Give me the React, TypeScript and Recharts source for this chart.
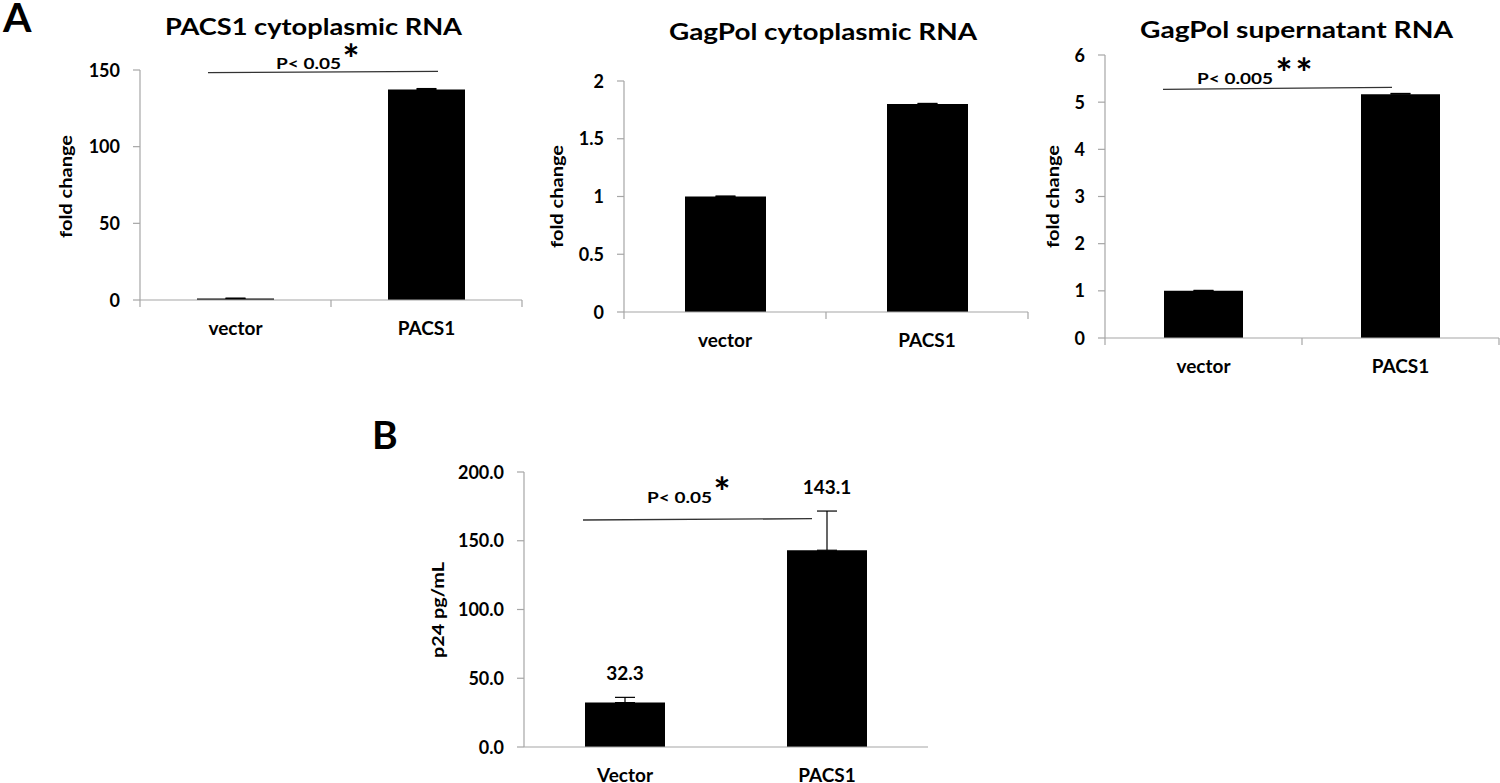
import React from "react";
import { BarChart, Bar, XAxis, YAxis, ErrorBar, LabelList } from "recharts";

// panel A: qRT-PCR fold change
const rnaGroups = ["vector", "PACS1"];
const pacs1Cyto = [1, 137.3];
const pacs1CytoErr = [0.2, 0.6];
const gagPolCyto = [1, 1.8];
const gagPolCytoErr = [0.004, 0.006];
const gagPolSup = [1, 5.17];
const gagPolSupErr = [0.01, 0.015];
const pacs1CytoTicks = [0, 50, 100, 150];
const gagPolCytoTicks = [0, 0.5, 1, 1.5, 2];
const gagPolSupTicks = [0, 1, 2, 3, 4, 5, 6];

// panel B: p24 ELISA
const p24Groups = ["Vector", "PACS1"];
const p24Values = [32.3, 143.1];
const p24Err = [3.8, 28.5];
const p24Ticks = [0, 50, 100, 150, 200];

const FONT = "Lato, 'Open Sans', sans-serif";
const AXIS = "#a6a6a6";

const toRows = (names: string[], vals: number[], errs: number[]) =>
  names.map((name, i) => ({ name, value: vals[i], err: [0, errs[i]] }));

function CatTick(props: any) {
  const { x, y, payload, index, bw, marks } = props;
  return (
    <g>
      {marks && (
        <line x1={x + bw / 2} x2={x + bw / 2} y1={y} y2={y + 7} stroke={AXIS} strokeWidth={1.2} />
      )}
      {marks && index === 0 && (
        <line x1={x - bw / 2} x2={x - bw / 2} y1={y} y2={y + 7} stroke={AXIS} strokeWidth={1.2} />
      )}
      <text x={x} y={y + 35} textAnchor="middle" fontFamily={FONT} fontWeight={700} fontSize={19} fill="#000">
        {payload.value}
      </text>
    </g>
  );
}

function ValTick(props: any) {
  const { x, y, payload, fmt } = props;
  const v = payload.value;
  return (
    <text x={x} y={y} dy={6.5} textAnchor="end" fontFamily={FONT} fontWeight={700} fontSize={18} fill="#000">
      {fmt ? fmt(v) : String(v)}
    </text>
  );
}

type PanelProps = {
  rows: { name: string; value: number; err: number[] }[];
  ticks: number[];
  plot: { x: number; y: number; w: number; h: number; r?: number };
  barSize: number;
  fmt?: (v: number) => string;
  xMarks?: boolean;
  errs?: number[];
};

function Panel({ rows, ticks, plot, barSize, fmt, xMarks, errs }: PanelProps) {
  const padL = 100;
  const padT = 20;
  const padB = 50;
  const padR = plot.r ?? 10;
  const bw = plot.w / rows.length;
  return (
    <div style={{ position: "absolute", left: plot.x - padL, top: plot.y - padT }}>
      <BarChart
        width={plot.w + padL + padR}
        height={plot.h + padT + padB}
        data={rows}
        margin={{ top: padT, right: padR, left: 0, bottom: 0 }}
      >
        <XAxis
          dataKey="name"
          height={padB}
          interval={0}
          tickSize={0}
          tickMargin={0}
          tickLine={false}
          axisLine={{ stroke: AXIS, strokeWidth: 1.2 }}
          tick={(p: any) => <CatTick {...p} bw={bw} marks={xMarks} />}
        />
        <YAxis
          width={padL}
          type="number"
          domain={[ticks[0], ticks[ticks.length - 1]]}
          ticks={ticks}
          interval={0}
          tickSize={7}
          tickMargin={13}
          axisLine={{ stroke: AXIS, strokeWidth: 1.2 }}
          tickLine={{ stroke: AXIS, strokeWidth: 1.2 }}
          tick={(p: any) => <ValTick {...p} fmt={fmt} />}
        />
        <Bar dataKey="value" fill="#000" barSize={barSize} isAnimationActive={false}>
          <ErrorBar dataKey="err" width={10} stroke="#000" strokeWidth={1.2} direction="y" />
          {errs && (
            <LabelList
              dataKey="value"
              content={(p: any) => {
                const { x, y, width, height, value, index } = p;
                const errPx = (errs[index ?? 0] * Math.abs(height)) / value;
                return (
                  <text
                    x={x + width / 2}
                    y={y - errPx - 17}
                    textAnchor="middle"
                    fontFamily={FONT}
                    fontWeight={700}
                    fontSize={19}
                    fill="#000"
                  >
                    {Number(value).toFixed(1)}
                  </text>
                );
              }}
            />
          )}
        </Bar>
      </BarChart>
    </div>
  );
}

const txt = { fontFamily: FONT, fontWeight: 700, fill: "#000" } as const;

export default function App() {
  return (
    <div
      style={{
        position: "absolute",
        left: 0,
        top: 0,
        width: 1500,
        height: 783,
        overflow: "hidden",
        background: "#fff",
      }}
    >
      <Panel
        rows={toRows(rnaGroups, pacs1Cyto, pacs1CytoErr)}
        ticks={pacs1CytoTicks}
        plot={{ x: 140, y: 70, w: 382, h: 230 }}
        barSize={77}
        xMarks
      />
      <Panel
        rows={toRows(rnaGroups, gagPolCyto, gagPolCytoErr)}
        ticks={gagPolCytoTicks}
        plot={{ x: 624, y: 81, w: 404, h: 231 }}
        barSize={81}
        xMarks
      />
      <Panel
        rows={toRows(rnaGroups, gagPolSup, gagPolSupErr)}
        ticks={gagPolSupTicks}
        plot={{ x: 1105, y: 55, w: 394, h: 283, r: 1 }}
        barSize={79}
        xMarks
      />
      <Panel
        rows={toRows(p24Groups, p24Values, p24Err)}
        ticks={p24Ticks}
        plot={{ x: 524, y: 472, w: 404, h: 275 }}
        barSize={80}
        fmt={(v) => v.toFixed(1)}
        errs={p24Err}
      />

      <svg
        width={1500}
        height={783}
        style={{ position: "absolute", left: 0, top: 0, pointerEvents: "none" }}
      >
        {/* panel letters */}
        <text x={3} y={32} fontSize={41} {...txt}>A</text>
        <text x={372} y={449} fontSize={39} {...txt}>B</text>

        {/* titles */}
        <text x={165} y={35} fontSize={22} textLength={297} lengthAdjust="spacingAndGlyphs" {...txt}>
          PACS1 cytoplasmic RNA
        </text>
        <text x={669} y={40} fontSize={22} textLength={308} lengthAdjust="spacingAndGlyphs" {...txt}>
          GagPol cytoplasmic RNA
        </text>
        <text x={1140} y={38} fontSize={22} textLength={313} lengthAdjust="spacingAndGlyphs" {...txt}>
          GagPol supernatant RNA
        </text>

        {/* y-axis titles */}
        <text transform="translate(72,186.5) rotate(-90)" textAnchor="middle" fontSize={17} textLength={103} lengthAdjust="spacingAndGlyphs" {...txt}>
          fold change
        </text>
        <text transform="translate(563,196.5) rotate(-90)" textAnchor="middle" fontSize={17} textLength={103} lengthAdjust="spacingAndGlyphs" {...txt}>
          fold change
        </text>
        <text transform="translate(1059,196.5) rotate(-90)" textAnchor="middle" fontSize={17} textLength={103} lengthAdjust="spacingAndGlyphs" {...txt}>
          fold change
        </text>
        <text transform="translate(444,610) rotate(-90)" textAnchor="middle" fontSize={17} textLength={96} lengthAdjust="spacingAndGlyphs" {...txt}>
          p24 pg/mL
        </text>

        {/* significance brackets */}
        <line x1={208} y1={72.7} x2={438} y2={71.3} stroke="#333" strokeWidth={1.3} />
        <text x={276} y={69} fontSize={16} textLength={65} lengthAdjust="spacingAndGlyphs" {...txt}>P&lt; 0.05</text>
        <text x={351} y={74} fontSize={40} textAnchor="middle" {...txt}>*</text>

        <line x1={1163} y1={89.3} x2={1392} y2={87.3} stroke="#333" strokeWidth={1.3} />
        <text x={1197} y={84} fontSize={16} textLength={76} lengthAdjust="spacingAndGlyphs" {...txt}>P&lt; 0.005</text>
        <text x={1284} y={88} fontSize={40} textAnchor="middle" {...txt}>*</text>
        <text x={1304} y={88} fontSize={40} textAnchor="middle" {...txt}>*</text>

        <line x1={583} y1={520} x2={812} y2={518.7} stroke="#333" strokeWidth={1.3} />
        <text x={647} y={502.7} fontSize={16} textLength={65} lengthAdjust="spacingAndGlyphs" {...txt}>P&lt; 0.05</text>
        <text x={722} y={507} fontSize={40} textAnchor="middle" {...txt}>*</text>
      </svg>
    </div>
  );
}
